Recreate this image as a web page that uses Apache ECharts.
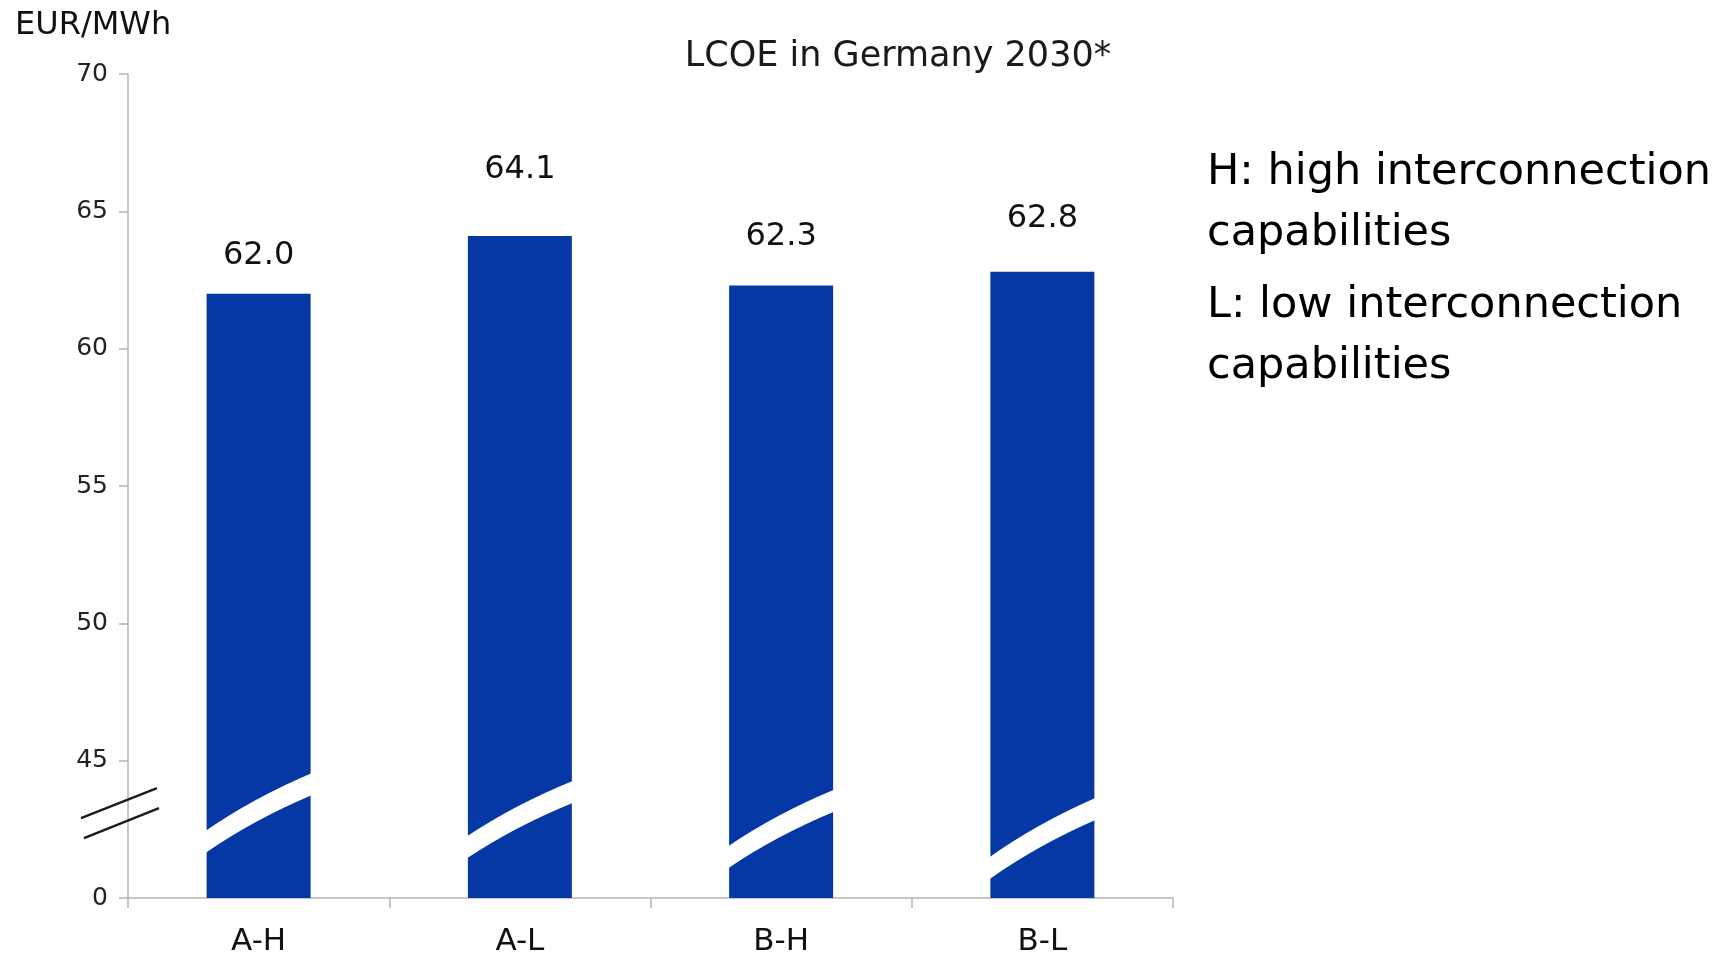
<!DOCTYPE html>
<html><head><meta charset="utf-8">
<script src="https://cdn.jsdelivr.net/npm/echarts@6/dist/echarts.min.js"></script>
<style>html,body{margin:0;padding:0;background:#fff}#c{width:1722px;height:956px}</style>
</head><body><div id="c"></div>
<script>
// ---- data ----
const categories = ['A-H', 'A-L', 'B-H', 'B-L'];
const lcoeValues = [62.0, 64.1, 62.3, 62.8];
const yTickLabels = ['0', '45', '50', '55', '60', '65', '70'];
const breakOffset = 40;               // broken axis: 0, then 45 .. 70
const breakBandLeft = [2.02, 1.82, 1.46, 1.06];   // centre of white break band (axis units) at bar's left edge
const breakBandRight = [4.16, 3.88, 3.56, 3.26];  // ... at bar's right edge
const titleText = 'LCOE in Germany 2030*';
const unitText = 'EUR/MWh';
const noteLines = ['H: high interconnection', 'capabilities', 'L: low interconnection', 'capabilities'];

// ---- layout / style ----
const FONT = "'DejaVu Sans', Verdana, sans-serif";
const BLUE = '#0638a5';
const AXIS = '#b4b4b4';
const noteY = [173, 234, 306, 367];
const labelLift = [0, 28, 11, 15];    // extra vertical offset of value labels (px), as placed in the original

const chart = echarts.init(document.getElementById('c'), null, {renderer: 'canvas'});

const option = {
  backgroundColor: '#fff',
  animation: false,
  textStyle: {fontFamily: FONT},
  title: {
    text: titleText, left: 898, top: 39, textAlign: 'center', padding: 0,
    textStyle: {fontFamily: FONT, fontSize: 35, fontWeight: 'normal', color: '#1a1a1a'}
  },
  grid: {left: 128, right: 549, top: 74, bottom: 58, containLabel: false, outerBoundsMode: 'none'},
  xAxis: {
    type: 'category', data: categories,
    axisLine: {lineStyle: {color: AXIS, width: 1.5}},
    axisTick: {show: true, alignWithLabel: false, length: 10, lineStyle: {color: AXIS, width: 1.5}},
    axisLabel: {fontFamily: FONT, fontSize: 31, color: '#111', margin: 28}
  },
  yAxis: {
    type: 'value', min: 0, max: 30, interval: 5,
    splitLine: {show: false},
    axisLine: {show: true, lineStyle: {color: AXIS, width: 1.5}},
    axisTick: {show: true, length: 9, lineStyle: {color: AXIS, width: 1.5}},
    axisLabel: {fontFamily: FONT, fontSize: 25, color: '#222', margin: 20,
      formatter: v => yTickLabels[Math.round(v / 5)]}
  },
  graphic: [
    {type: 'text', left: 15, top: 10, style: {text: unitText, font: '32px ' + FONT, fill: '#111'}}
  ].concat(noteLines.map((t, i) => ({
    type: 'text', x: 1207, y: noteY[i],
    style: {text: t, font: '43px ' + FONT, fill: '#000', verticalAlign: 'middle', textVerticalAlign: 'middle'}
  }))),
  series: [
    {
      type: 'bar', barWidth: 104,
      data: lcoeValues.map((v, i) => ({
        value: v - breakOffset,
        label: {offset: [0, -labelLift[i]]}
      })),
      itemStyle: {color: BLUE},
      label: {show: true, position: 'top', distance: 22, fontFamily: FONT, fontSize: 32, color: '#111',
        formatter: p => lcoeValues[p.dataIndex].toFixed(1)},
      z: 2
    },
    {
      type: 'custom', z: 3, silent: true,
      data: categories.map((c, i) => [i, breakBandLeft[i], breakBandRight[i]]),
      encode: {x: 0, y: 1},
      renderItem: (params, api) => {
        const i = api.value(0);
        const cx = api.coord([i, 0])[0];
        const hw = 54, ht = 11;
        const xL = cx - hw, xR = cx + hw;
        const yl = api.coord([i, api.value(1)])[1];
        const yr = api.coord([i, api.value(2)])[1];
        const qx = cx - 6, qy = (yl + yr) / 2 - 4;
        const d = `M${xL},${yl - ht} Q${qx},${qy - ht} ${xR},${yr - ht} L${xR},${yr + ht} Q${qx},${qy + ht} ${xL},${yl + ht} Z`;
        return {type: 'path', shape: {pathData: d}, style: {fill: '#fff', stroke: null}};
      }
    },
    {
      type: 'custom', z: 4, silent: true,
      data: [[0, 3.09]],
      encode: {x: 0, y: 1},
      renderItem: (params, api) => {
        const band = api.size([1, 0])[0];
        const ax = api.coord([0, 0])[0] - band / 2;
        const yc = api.coord([0, api.value(1)])[1];
        const st = {stroke: '#1a1a1a', lineWidth: 2.2};
        return {type: 'group', children: [
          {type: 'line', shape: {x1: ax - 47, y1: yc + 5, x2: ax + 29, y2: yc - 25}, style: st},
          {type: 'line', shape: {x1: ax - 44, y1: yc + 25, x2: ax + 31, y2: yc - 5}, style: st}
        ]};
      }
    }
  ]
};
chart.setOption(option);
</script>
</body></html>
